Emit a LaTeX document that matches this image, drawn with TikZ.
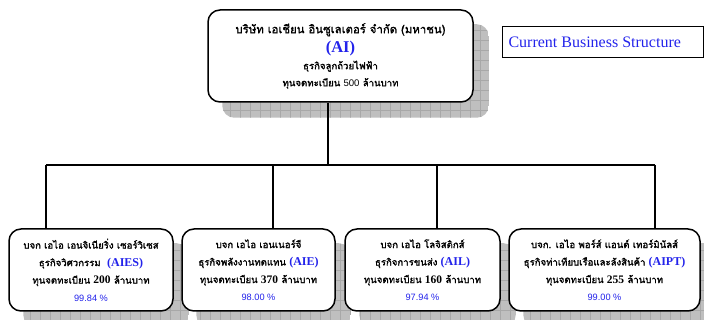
\documentclass[tikz,border=0pt]{standalone}
\usepackage{fontspec}
\usetikzlibrary{backgrounds}
\setmainfont{Liberation Serif}
\setsansfont{Liberation Sans}
\newfontfamily\thaifont[Script=Thai, AutoFakeBold=1.6]{Loma}
\definecolor{aiblue}{RGB}{35,35,235}
\newcommand{\code}[1]{{\rmfamily\bfseries\fontsize{12}{12}\selectfont\color{aiblue}#1}}
\newcommand{\amount}[1]{{\rmfamily\bfseries\fontsize{11.5}{11}\selectfont #1}}
\newcommand{\share}[1]{{\sffamily\mdseries\fontsize{9.2}{8}\selectfont\color{aiblue}#1}}

\begin{document}
\begin{tikzpicture}[x=1pt, y=-1pt, thick,
  co box/.style={draw, line width=1.5pt, rounded corners=12pt, fill=white, align=center, inner sep=0pt, font=\thaifont\bfseries\fontsize{9.6}{17.5}\selectfont},
  sub box/.style={co box, minimum height=82pt},
  shadow fill/.style={fill=gray!50},
  grid line/.style={draw=gray!68, line width=0.4pt},
  link/.style={draw, line width=1.2pt}]
\useasboundingbox (0,0) rectangle (704,320);

% parent company
\node[co box, minimum width=265pt, minimum height=92pt, font=\thaifont\bfseries\fontsize{11.4}{17}\selectfont] (AI) at (340.5,56)
  {บริษัท เอเชียน อินซูเลเตอร์ จำกัด (มหาชน)\\[2pt]
   {\rmfamily\bfseries\fontsize{16.5}{15}\selectfont\color{aiblue}(AI)}\\
   {\fontsize{9.6}{8}\selectfont ธุรกิจลูกถ้วยไฟฟ้า}\\
   {\fontsize{9.6}{8}\selectfont ทุนจดทะเบียน {\sffamily\mdseries 500} ล้านบาท}};

\node[draw, line width=1pt, minimum width=201pt, minimum height=31pt, anchor=north west, inner sep=6pt,
  text=aiblue, font=\rmfamily\fontsize{16}{16}\selectfont] (title) at (502,26) {\makebox[189pt][l]{Current Business Structure}};

% subsidiaries
\node[sub box, minimum width=164pt] (AIES) at (91,270)
  {บจก เอไอ เอนจิเนียริ่ง เซอร์วิเซส\\ ธุรกิจวิศวกรรม\ \ \code{(AIES)}\\ ทุนจดทะเบียน \amount{200} ล้านบาท\\ \share{99.84 \%}};
\node[sub box, minimum width=153pt] (AIE) at (258.5,270)
  {บจก เอไอ เอนเนอร์จี\\ ธุรกิจพลังงานทดแทน \code{(AIE)}\\ ทุนจดทะเบียน \amount{370} ล้านบาท\\ \share{98.00 \%}};
\node[sub box, minimum width=155pt] (AIL) at (422.5,270)
  {บจก เอไอ โลจิสติกส์\\ ธุรกิจการขนส่ง \code{(AIL)}\\ ทุนจดทะเบียน \amount{160} ล้านบาท\\ \share{97.94 \%}};
\node[sub box, minimum width=191pt] (AIPT) at (604.5,270)
  {บจก. เอไอ พอร์ส์ แอนด์ เทอร์มินัลส์\\ ธุรกิจท่าเทียบเรือและลังสินค้า \code{(AIPT)}\\ ทุนจดทะเบียน \amount{255} ล้านบาท\\ \share{99.00 \%}};

% bus and drops
\coordinate (bus) at (328,165);
\coordinate (d1) at (46,165);
\coordinate (d2) at (273,165);
\coordinate (d3) at (437,165);
\coordinate (d4) at (655,165);
\path[link] (AI.south -| bus) -- (bus);
\path[link] (d1) -- (d4);
\path[link] (d1) -- (d1 |- AIES.north);
\path[link] (d2) -- (d2 |- AIE.north);
\path[link] (d3) -- (d3 |- AIL.north);
\path[link] (d4) -- (d4 |- AIPT.north);

% shadows
\begin{scope}[on background layer]
\foreach \n in {AI,AIES,AIE,AIL,AIPT}{
  \begin{scope}
    \clip[rounded corners=12pt] ([shift={(15,15)}]\n.south west) rectangle ([shift={(15,15)}]\n.north east);
    \path[shadow fill] ([shift={(15,15)}]\n.south west) rectangle ([shift={(15,15)}]\n.north east);
    \draw[grid line, step=10pt] ([shift={(15,15)}]\n.south west) grid ([shift={(15,15)}]\n.north east);
  \end{scope}
}
\end{scope}
\end{tikzpicture}
\end{document}
